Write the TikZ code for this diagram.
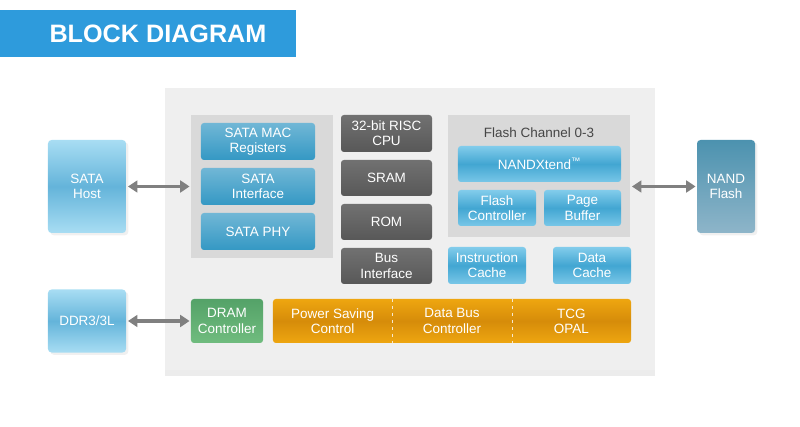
\documentclass[tikz,border=0pt]{standalone}
\usepackage{fontspec}
\setmainfont{Liberation Sans}
\usepackage{tikz}
\usetikzlibrary{arrows.meta,shadows}
\definecolor{titleblue}{RGB}{46,155,220}
\definecolor{panelgrey}{RGB}{239,239,239}
\definecolor{groupgrey}{RGB}{217,217,217}
\definecolor{satablue}{RGB}{52,152,196}
\definecolor{lightblue}{RGB}{130,204,235}
\definecolor{midblue}{RGB}{66,166,210}
\definecolor{hostlight}{RGB}{168,221,243}
\definecolor{hostmid}{RGB}{100,180,218}
\definecolor{darkbox}{RGB}{88,88,88}
\definecolor{nandtop}{RGB}{76,146,175}
\definecolor{nandbot}{RGB}{142,181,201}
\definecolor{dramgreen}{RGB}{84,162,104}
\definecolor{dramlight}{RGB}{112,188,126}
\definecolor{barorange}{RGB}{214,140,10}
\definecolor{barlight}{RGB}{238,166,16}
\definecolor{arrowgrey}{RGB}{128,128,128}
\definecolor{labelgrey}{RGB}{70,70,70}

\begin{document}
\begin{tikzpicture}[x=0.03cm, y=-0.03cm,
    font=\fontsize{11.5}{13}\selectfont,
    panel/.style={rectangle, fill=panelgrey, minimum width=14.7cm, minimum height=8.46cm,
                  drop shadow={opacity=0.15, shadow xshift=0pt, shadow yshift=-5pt}},
    group/.style={rectangle, fill=groupgrey, inner sep=0pt},
    sata/.style={rectangle, rounded corners=2.5pt, top color=satablue!70!white, bottom color=satablue,
                 text=white, align=center, minimum width=3.42cm, minimum height=1.11cm, inner sep=1pt},
    blk/.style={rectangle, rounded corners=2.5pt, top color=darkbox!85!white, bottom color=darkbox,
                text=white, align=center, minimum width=2.73cm, inner sep=1pt},
    lblue/.style={rectangle, rounded corners=2.5pt, top color=lightblue, bottom color=lightblue!85!midblue,
                  middle color=midblue, text=white, align=center, inner sep=1pt},
    host/.style={rectangle, rounded corners=3pt, top color=hostlight, bottom color=hostlight,
                 middle color=hostmid, text=white, align=center, minimum width=2.34cm,
                 drop shadow={opacity=0.12, shadow xshift=2pt, shadow yshift=-2pt}},
    part/.style={rectangle, text=white, align=center, minimum width=3.58cm, minimum height=1.32cm,
                 inner sep=0pt},
    link/.style={{Triangle[length=8pt,width=10pt]}-{Triangle[length=8pt,width=10pt]},
                 line width=3.2pt, arrowgrey, shorten <=1.5pt, shorten >=1pt},
    divider/.style={white!80!barorange, dashed, thin}]
\useasboundingbox (0,0) rectangle (800,427);
% title banner
\fill[titleblue] (0,10) rectangle (296,57);
\node[text=white, font=\fontsize{21.5}{24}\selectfont\bfseries] (title) at (158,33.5) {BLOCK DIAGRAM};
% controller panel
\node[panel] (chip) at (410,229) {};
% SATA group
\node[group, minimum width=4.26cm, minimum height=4.29cm] (satagrp) at (262,186.5) {};
\node[sata] (mac) at (258,141.5) {SATA MAC\\Registers};
\node[sata] (satif) at (258,186.5) {SATA\\Interface};
\node[sata] (phy) at (258,231.5) {SATA PHY};
% core column
\node[blk, minimum height=1.11cm] (cpu) at (386.5,133.5) {32-bit RISC\\CPU};
\node[blk, minimum height=1.08cm] (sram) at (386.5,178) {SRAM};
\node[blk, minimum height=1.08cm] (rom) at (386.5,222) {ROM};
\node[blk, minimum height=1.08cm] (busif) at (386.5,266) {Bus\\Interface};
% flash channel group
\node[group, minimum width=5.46cm, minimum height=3.66cm] (flashgrp) at (539,176) {};
\node[text=labelgrey] (chlabel) at (539,133) {Flash Channel 0-3};
\node[lblue, minimum width=4.89cm, minimum height=1.08cm] (nandx) at (539.5,164) {NANDXtend\textsuperscript{\texttrademark}};
\node[lblue, minimum width=2.34cm, minimum height=1.08cm] (flashctl) at (497,208) {Flash\\Controller};
\node[lblue, minimum width=2.31cm, minimum height=1.08cm] (pagebuf) at (582.5,208) {Page\\Buffer};
% caches
\node[lblue, minimum width=2.34cm, minimum height=1.11cm] (icache) at (487,265.5) {Instruction\\Cache};
\node[lblue, minimum width=2.34cm, minimum height=1.11cm] (dcache) at (592,265.5) {Data\\Cache};
% bottom row
\node[rectangle, rounded corners=2.5pt, top color=dramgreen, bottom color=dramlight, text=white,
      align=center, minimum width=2.16cm, minimum height=1.32cm, inner sep=1pt] (dramctl) at (227,321) {DRAM\\Controller};
\node[rectangle, rounded corners=2.5pt, top color=barlight, bottom color=barlight, middle color=barorange,
      minimum width=10.74cm, minimum height=1.32cm] (bar) at (452,321) {};
\node[part] (psc) at (332.67,321) {Power Saving\\Control};
\node[part] (dbc) at (452,321) {Data Bus\\Controller};
\node[part] (tcg) at (571.33,321) {TCG\\OPAL};
\draw[divider] (psc.north east) -- (psc.south east);
\draw[divider] (dbc.north east) -- (dbc.south east);
% external devices
\node[host, minimum height=2.79cm] (satahost) at (87,186.5) {SATA\\Host};
\node[host, minimum height=1.89cm] (ddr) at (87,321) {DDR3/3L};
\node[host, minimum width=1.74cm, minimum height=2.79cm, top color=nandtop, bottom color=nandbot,
      middle color=nandtop!50!nandbot] (nand) at (726,186.5) {NAND\\Flash};
% links
\draw[link] (satahost.east) -- (satagrp.west);
\draw[link] (ddr.east) -- (dramctl.west);
\draw[link] (flashgrp.east |- nand.west) -- (nand.west);
\end{tikzpicture}
\end{document}
